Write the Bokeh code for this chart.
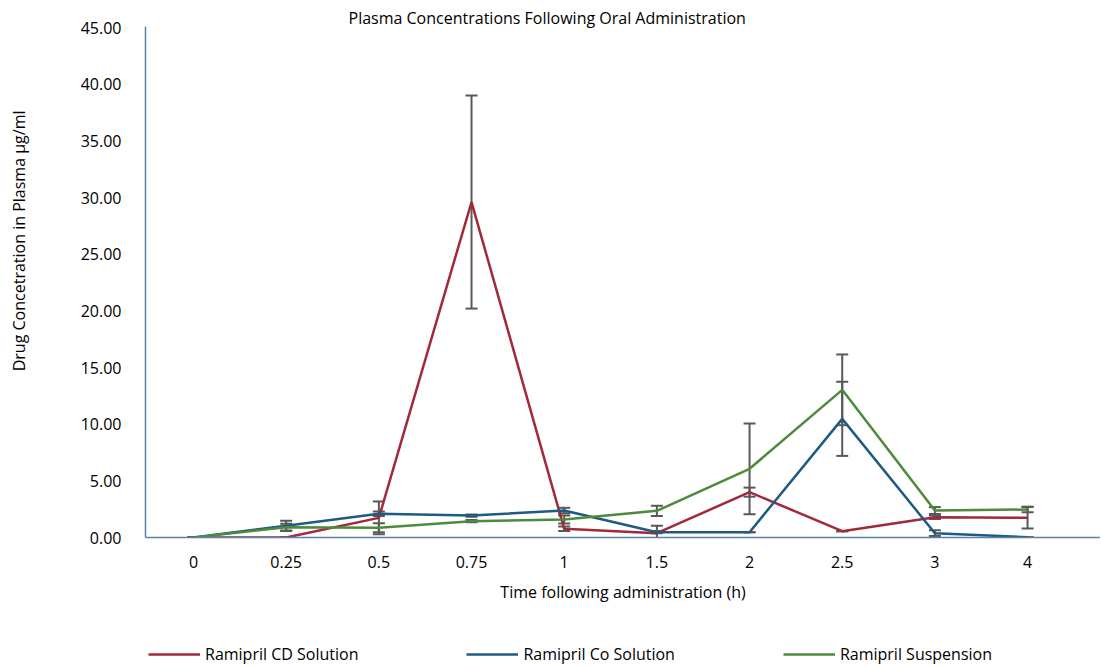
from bokeh.plotting import figure
from bokeh.layouts import column
from bokeh.models import (ColumnDataSource, Whisker, TeeHead, FixedTicker, NumeralTickFormatter,
                          Legend, LegendItem, Title, Range1d, LinearAxis)
from bokeh.embed import file_html
from bokeh.resources import INLINE

times = ["0", "0.25", "0.5", "0.75", "1", "1.5", "2", "2.5", "3", "4"]
cd_solution = [0.0, 0.0, 1.73, 29.6, 0.77, 0.38, 4.0, 0.56, 1.79, 1.74]
cd_err = [0.0, 0.0, 1.45, 9.4, 0.2, 0.65, 0.4, 0.0, 0.15, 0.95]
co_solution = [0.0, 1.03, 2.1, 1.94, 2.38, 0.47, 0.47, 10.47, 0.38, 0.03]
co_err = [0.0, 0.45, 0.2, 0.1, 0.24, 0.1, 0.0, 3.27, 0.25, 0.0]
suspension = [0.0, 0.91, 0.86, 1.44, 1.59, 2.35, 6.06, 13.03, 2.38, 2.47]
susp_err = [0.0, 0.3, 0.4, 0.1, 0.35, 0.45, 4.0, 3.12, 0.3, 0.25]
y_ticks = [0, 5, 10, 15, 20, 25, 30, 35, 40, 45]

series = [
    ("Ramipril CD Solution", cd_solution, cd_err, "#A3283A"),
    ("Ramipril Co Solution", co_solution, co_err, "#1F5A80"),
    ("Ramipril Suspension", suspension, susp_err, "#4E8A3C"),
]

FONT = "Open Sans"
TXT = "#000000"
FS = "16px"

p = figure(width=1100, height=613, output_backend="svg", toolbar_location=None,
           x_range=Range1d(-0.518, 9.787), y_range=Range1d(0, 45.09),
           min_border_left=145, min_border_right=0, min_border_top=26, min_border_bottom=76)
p.outline_line_color = None
p.grid.visible = False
p.background_fill_color = "white"

axis_color = "#5A82A8"
p.yaxis.ticker = FixedTicker(ticks=y_ticks)
p.yaxis.formatter = NumeralTickFormatter(format="0.00")
p.yaxis.axis_line_color = axis_color
p.yaxis.axis_line_width = 1.5
p.yaxis.major_tick_line_color = None
p.yaxis.minor_tick_line_color = None
p.yaxis.major_label_standoff = 18
p.yaxis.major_label_text_font = FONT
p.yaxis.major_label_text_font_size = FS
p.yaxis.major_label_text_color = TXT

# blank spacer axis (white tick on white) that pushes the rotated y title outwards
spacer = LinearAxis(ticker=FixedTicker(ticks=[0]), major_label_overrides={0: ""},
                    axis_line_color=None, major_tick_line_color="white",
                    minor_tick_line_color=None, major_tick_in=0, major_tick_out=48,
                    minor_tick_in=0, minor_tick_out=0, major_label_standoff=0)
p.add_layout(spacer, "left")

ytitle = Title(text="Drug Concetration in Plasma µg/ml", align="right", offset=84,
               standoff=0, vertical_align="bottom",
               text_font=FONT, text_font_size=FS, text_font_style="normal", text_color=TXT)
p.add_layout(ytitle, "left")

idx = list(range(len(times)))
p.xaxis.ticker = FixedTicker(ticks=idx)
p.xaxis.major_label_overrides = {i: t for i, t in enumerate(times)}
p.xaxis.axis_line_color = axis_color
p.xaxis.axis_line_width = 1.5
p.xaxis.major_tick_line_color = None
p.xaxis.minor_tick_line_color = None
p.xaxis.major_label_standoff = 12
p.xaxis.major_label_text_font = FONT
p.xaxis.major_label_text_font_size = FS
p.xaxis.major_label_text_color = TXT
p.xaxis.axis_label = "Time following administration (h)"
p.xaxis.axis_label_text_font = FONT
p.xaxis.axis_label_text_font_size = FS
p.xaxis.axis_label_text_font_style = "normal"
p.xaxis.axis_label_text_color = TXT
p.xaxis.axis_label_standoff = 10

for name, vals, errs, color in series:
    src = ColumnDataSource(dict(x=idx, y=vals,
                                upper=[v + e for v, e in zip(vals, errs)],
                                lower=[v - e for v, e in zip(vals, errs)]))
    p.line("x", "y", source=src, line_color=color, line_width=2.5)
    w = Whisker(source=src, base="x", upper="upper", lower="lower",
                line_color="#595959", line_width=2,
                upper_head=TeeHead(size=12, line_color="#595959", line_width=2),
                lower_head=TeeHead(size=12, line_color="#595959", line_width=2))
    p.add_layout(w)

title = Title(text="Plasma Concentrations Following Oral Administration",
              align="left", offset=203, standoff=-4,
              text_font=FONT, text_font_size=FS, text_font_style="normal", text_color=TXT)
p.add_layout(title, "above")

# legend strip below the chart (its series lie outside its visible range)
lg = figure(width=1100, height=52, output_backend="svg", toolbar_location=None,
            x_range=Range1d(100, 101), y_range=Range1d(100, 101),
            min_border_left=0, min_border_right=0, min_border_top=0, min_border_bottom=0)
lg.axis.visible = False
lg.grid.visible = False
lg.outline_line_color = None
items = []
for name, vals, errs, color in series:
    r = lg.line(x=idx, y=vals, line_color=color, line_width=2.5)
    items.append(LegendItem(label=name, renderers=[r]))
legend = Legend(items=items, orientation="horizontal", location=(3, 0),
                glyph_width=52, glyph_height=14, label_height=14, label_standoff=5,
                spacing=108, padding=0, margin=0,
                background_fill_alpha=0, border_line_color=None,
                label_text_font=FONT, label_text_font_size=FS, label_text_color=TXT)
lg.add_layout(legend, "center")

layout = column(p, lg, spacing=0)
open("out.html", "w").write(file_html(layout, INLINE))
